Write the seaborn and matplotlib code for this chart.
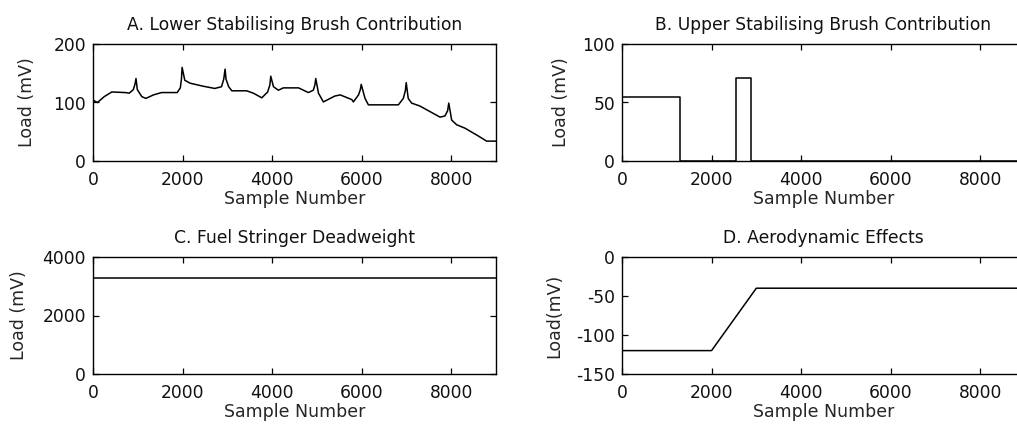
import numpy as np
import pandas as pd
import matplotlib
matplotlib.use("Agg")
import matplotlib.pyplot as plt
import seaborn as sns

# ---- data ----
a_x = [0, 100, 250, 420, 720, 810, 900, 940, 960, 990, 1090, 1180, 1350, 1530, 1880,
       1950, 1975, 1990, 2050, 2170, 2450, 2720, 2870, 2920, 2950, 2970, 3030, 3100,
       3430, 3580, 3770, 3900, 3950, 3970, 4030, 4140, 4250, 4590, 4810, 4920, 4955,
       4975, 5035, 5145, 5400, 5520, 5780, 5815, 5930, 5970, 5990, 6075, 6150, 6820,
       6930, 6975, 6995, 7040, 7115, 7300, 7750, 7860, 7920, 7945, 8010, 8120, 8310,
       8600, 8790, 9000]
a_y = [104, 100, 110, 118, 117, 116, 122, 132, 141, 122, 110, 107, 113, 117, 117,
       125, 140, 160, 138, 133, 128, 124, 127, 140, 157, 140, 127, 120,
       120, 116, 108, 118, 130, 145, 127, 121, 125, 125, 117, 121, 130,
       141, 116, 101, 111, 113, 105, 101, 113, 122, 131, 107, 96, 96,
       107, 120, 134, 107, 99, 94, 75, 77, 86, 99, 70, 62, 56,
       43, 34, 34]

b_x = [0, 1300, 1300, 2550, 2550, 2870, 2870, 9000]
b_y = [55, 55, 0, 0, 71, 71, 0, 0]

c_x = [0, 9000]
c_y = [3280, 3280]

d_x = [0, 2000, 3000, 9000]
d_y = [-120, -120, -40, -40]

titles = ["A. Lower Stabilising Brush Contribution",
          "B. Upper Stabilising Brush Contribution",
          "C. Fuel Stringer Deadweight",
          "D. Aerodynamic Effects"]
ylabels = ["Load (mV)", "Load (mV)", "Load (mV)", "Load(mV)"]
xlabel = "Sample Number"
x_ticks = [0, 2000, 4000, 6000, 8000]
y_ticks = [[0, 100, 200], [0, 50, 100], [0, 2000, 4000], [-150, -100, -50, 0]]
y_lims = [(0, 200), (0, 100), (0, 4000), (-150, 0)]

# ---- style ----
sns.set_style("ticks")
plt.rcParams["font.family"] = ["DejaVu Sans"]
plt.rcParams.update({
    "axes.unicode_minus": False,
    "xtick.direction": "in", "ytick.direction": "in",
    "xtick.top": True, "ytick.right": True,
    "xtick.major.size": 4, "ytick.major.size": 4,
    "xtick.major.width": 0.9, "ytick.major.width": 0.9,
    "axes.linewidth": 1.0,
    "axes.edgecolor": "#000000",
    "text.color": "#111111",
    "xtick.color": "#000000", "ytick.color": "#000000",
    "xtick.labelcolor": "#111111", "ytick.labelcolor": "#111111",
})

W, H = 1017, 428
fig = plt.figure(figsize=(W / 100, H / 100), dpi=100)

def px_axes(left, top, right, bottom):
    return fig.add_axes([left / W, 1 - bottom / H, (right - left) / W, (bottom - top) / H])

axes = [px_axes(93, 44, 496, 161), px_axes(622, 44, 1025, 161),
        px_axes(93, 257, 496, 374), px_axes(622, 257, 1025, 374)]
data = [(a_x, a_y), (b_x, b_y), (c_x, c_y), (d_x, d_y)]
ylab_x = [-0.141, -0.129, -0.161, -0.146]

for i, ax in enumerate(axes):
    xs, ys = data[i]
    df = pd.DataFrame({"x": xs, "y": ys})
    sns.lineplot(data=df, x="x", y="y", ax=ax, color="#000000", lw=1.1,
                 estimator=None, sort=False)
    ax.set_xlim(0, 9000)
    ax.set_ylim(*y_lims[i])
    ax.set_xticks(x_ticks)
    ax.set_yticks(y_ticks[i])
    ax.tick_params(labelsize=12.3)
    ax.tick_params(axis="x", pad=7)
    ax.tick_params(axis="y", pad=5)
    ax.set_title(titles[i], fontsize=12.3, pad=10)
    ax.set_xlabel(xlabel, fontsize=12.5)
    ax.set_ylabel(ylabels[i], fontsize=12.5)
    ax.xaxis.set_label_coords(0.5, -0.25)
    ax.yaxis.set_label_coords(ylab_x[i], 0.5)
    for s in ax.spines.values():
        s.set_visible(True)

fig.savefig("out.png", dpi=100)
